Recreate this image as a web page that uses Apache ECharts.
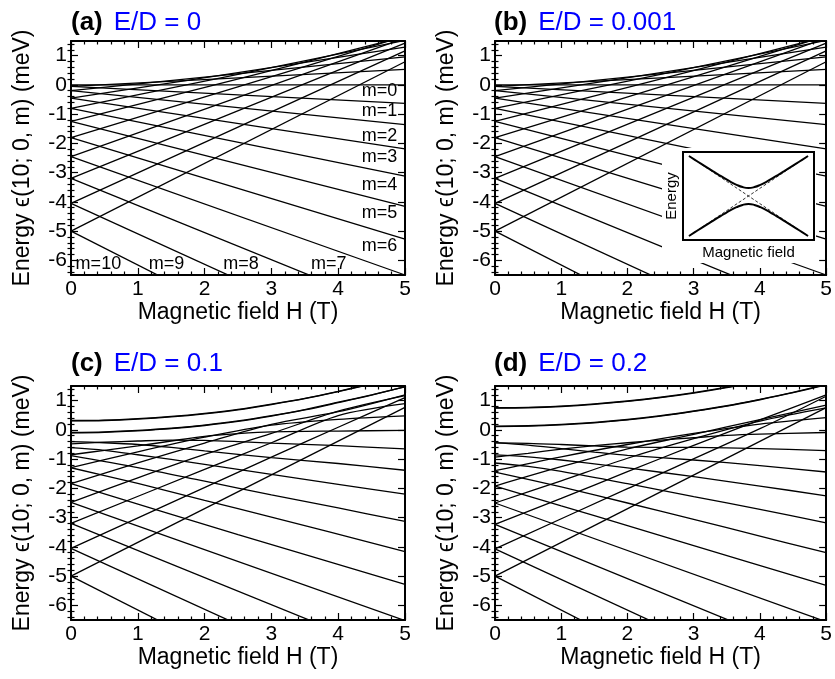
<!DOCTYPE html>
<html><head><meta charset="utf-8">
<script src="https://cdn.jsdelivr.net/npm/echarts@6/dist/echarts.min.js"></script>
<style>html,body{margin:0;padding:0;background:#fff}#c{width:835px;height:679px}</style>
</head><body><div id="c"></div>
<script>
// ---------------- data ----------------
const PANEL_TAGS = ['(a)', '(b)', '(c)', '(d)'];
const PANEL_RATIOS = ['E/D = 0', 'E/D = 0.001', 'E/D = 0.1', 'E/D = 0.2'];
const X_TITLE = 'Magnetic field H (T)';
const Y_TITLE = 'Energy \u03f5(10; 0, m) (meV)';
const Y_MAJOR = [-6, -5, -4, -3, -2, -1, 0, 1];
const Y_MINOR = [-6.4,-6.2,-5.8,-5.6,-5.4,-5.2,-4.8,-4.6,-4.4,-4.2,-3.8,-3.6,-3.4,-3.2,-2.8,-2.6,-2.4,-2.2,-1.8,-1.6,-1.4,-1.2,-0.8,-0.6,-0.4,-0.2,0.2,0.4,0.6,0.8,1.2,1.4];

// panel (a): straight levels, m = -10 ... 10, energies at H = 0 T and H = 5 T
const M_VALUES = [-10,-9,-8,-7,-6,-5,-4,-3,-2,-1,0,1,2,3,4,5,6,7,8,9,10];
const A_E_AT_0T = [-5.00,-4.05,-3.20,-2.45,-1.80,-1.25,-0.80,-0.45,-0.20,-0.05,0.00,-0.05,-0.20,-0.45,-0.80,-1.25,-1.80,-2.45,-3.20,-4.05,-5.00];
const A_E_AT_5T = [0.79,1.16,1.43,1.60,1.67,1.65,1.52,1.29,0.96,0.53,0.00,-0.63,-1.36,-2.19,-3.12,-4.15,-5.27,-6.50,-7.83,-9.26,-10.79];
// panel (b): E/D = 0.001 (indistinguishable from (a) at this scale)
const B_E_AT_0T = [-5.00,-4.05,-3.20,-2.45,-1.80,-1.25,-0.80,-0.45,-0.20,-0.05,0.00,-0.05,-0.20,-0.45,-0.80,-1.25,-1.80,-2.45,-3.20,-4.05,-5.00];
const B_E_AT_5T = [0.79,1.16,1.43,1.60,1.67,1.65,1.52,1.29,0.96,0.53,0.00,-0.63,-1.36,-2.19,-3.12,-4.15,-5.27,-6.50,-7.83,-9.26,-10.79];

// panel (c): levels as [H, E] points
const C_CURVES = [
  [[0,-5.00],[5,-10.79]],
  [[0,-4.05],[5,-9.26]],
  [[0,-3.20],[5,-7.83]],
  [[0,-2.48],[5,-6.52]],
  [[0,-1.84],[2.5,-3.58],[5,-5.28]],
  [[0,-1.295],[1,-1.83],[2,-2.41],[3,-2.98],[5,-4.16]],
  [[0,-0.88],[1,-1.29],[2,-1.755],[3,-2.22],[4,-2.67],[5,-3.13]],
  [[0,-0.61],[0.5,-0.70],[1,-0.85],[1.5,-1.01],[2,-1.18],[3,-1.52],[4,-1.86],[5,-2.20]],
  [[0,-0.40],[0.5,-0.44],[1,-0.50],[1.5,-0.60],[2,-0.72],[3,-0.95],[4,-1.15],[5,-1.38]],
  [[0,-0.48],[0.5,-0.42],[1,-0.38],[1.5,-0.35],[2,-0.36],[2.5,-0.40],[3,-0.45],[4,-0.54],[5,-0.65]],
  [[0,-0.85],[0.5,-0.70],[1,-0.55],[1.5,-0.38],[2,-0.22],[2.5,-0.13],[3,-0.07],[4,-0.04],[5,-0.02]],
  [[0,-1.29],[1,-0.75],[2,-0.25],[3,0.16],[4,0.36],[5,0.48]],
  [[0,-1.84],[1,-1.13],[2,-0.45],[3,0.19],[4,0.62],[5,1.20]],
  [[0,-2.48],[1,-1.64],[2,-0.84],[3,-0.12],[4,0.64],[5,1.17]],
  [[0,-3.20],[2,-1.35],[3,-0.44],[4,0.49],[5,0.90]],
  [[0,-4.05],[3,-0.93],[4,0.09],[5,1.10]],
  [[0,-5.00],[5,0.77]],
  [[0,0.32],[0.5,0.335],[1,0.385],[1.5,0.46],[2,0.565],[2.5,0.70],[3,0.88],[3.5,1.08],[4,1.32],[4.5,1.58]],
  [[0,0.305],[0.5,0.32],[1,0.37],[1.5,0.445],[2,0.55],[2.5,0.685],[3,0.865],[3.5,1.065],[4,1.305],[4.5,1.565]],
  [[0,-0.105],[0.5,-0.085],[1,-0.035],[1.5,0.04],[2,0.15],[2.5,0.29],[3,0.47],[3.5,0.68],[4,0.93],[4.5,1.19],[5,1.48]],
  [[0,-0.09],[0.5,-0.07],[1,-0.02],[1.5,0.055],[2,0.165],[2.5,0.305],[3,0.485],[3.5,0.695],[4,0.945],[4.5,1.20],[5,1.47]]
];
// panel (d): levels as [H, E] points
const D_CURVES = [
  [[0,-5.00],[5,-10.80]],
  [[0,-4.07],[5,-9.30]],
  [[0,-3.23],[5,-7.87]],
  [[0,-2.50],[5,-6.56]],
  [[0,-1.92],[1,-2.60],[2,-3.27],[3,-3.96],[5,-5.32]],
  [[0,-1.446],[1,-1.95],[2,-2.50],[3,-3.06],[4,-3.63],[5,-4.20]],
  [[0,-1.133],[0.5,-1.25],[1,-1.42],[2,-1.84],[3,-2.28],[4,-2.72],[5,-3.18]],
  [[0,-0.853],[0.5,-0.92],[1,-1.03],[1.5,-1.16],[2,-1.30],[3,-1.60],[4,-1.92],[5,-2.255]],
  [[0,-0.437],[0.5,-0.52],[1,-0.64],[1.5,-0.76],[2,-0.87],[3,-1.03],[4,-1.22],[5,-1.44]],
  [[0,-0.446],[0.5,-0.46],[1,-0.50],[1.5,-0.55],[2,-0.59],[3,-0.60],[4,-0.64],[5,-0.71]],
  [[0,-0.931],[0.5,-0.80],[1,-0.66],[1.5,-0.54],[2,-0.44],[2.5,-0.35],[3,-0.27],[3.5,-0.19],[4,-0.145],[5,-0.09]],
  [[0,-1.397],[1,-0.92],[2,-0.50],[3,-0.12],[4,0.20],[5,0.42]],
  [[0,-1.92],[1,-1.26],[2,-0.65],[3,-0.15],[4,0.35],[5,0.85]],
  [[0,-2.50],[1,-1.74],[2,-0.97],[3,-0.30],[4,0.30],[5,0.75]],
  [[0,-3.23],[1,-2.34],[2,-1.43],[3,-0.53],[4,0.34],[5,1.20]],
  [[0,-4.07],[2,-2.01],[4,0.04],[5,1.15]],
  [[0,-5.00],[5,0.76]],
  [[0,0.757],[0.5,0.771],[1,0.814],[1.5,0.886],[2,0.987],[2.5,1.116],[3,1.274],[3.5,1.46],[4,1.68]],
  [[0,0.742],[0.5,0.756],[1,0.799],[1.5,0.871],[2,0.972],[2.5,1.101],[3,1.259],[3.5,1.445],[4,1.665]],
  [[0,0.112],[0.5,0.126],[1,0.17],[1.5,0.24],[2,0.34],[2.5,0.47],[3,0.63],[3.5,0.81],[4,1.03],[4.5,1.27],[5,1.54]],
  [[0,0.127],[0.5,0.141],[1,0.185],[1.5,0.255],[2,0.355],[2.5,0.485],[3,0.645],[3.5,0.825],[4,1.045],[4.5,1.285],[5,1.555]]
];

// level labels in panel (a): text, H, E
const A_LABELS_RIGHT = [['m=0',4.885,-0.21],['m=1',4.885,-0.90],['m=2',4.885,-1.76],['m=3',4.885,-2.45],['m=4',4.885,-3.41],['m=5',4.885,-4.38],['m=6',4.885,-5.52]];
const A_LABELS_BOTTOM = [['m=10',0.41,-6.14],['m=9',1.43,-6.14],['m=8',2.545,-6.14],['m=7',3.86,-6.14]];

// inset (schematic avoided crossing)
const INSET_X = [-1,-0.9,-0.8,-0.6,-0.5,-0.4,-0.3,-0.2,-0.1,0,0.1,0.2,0.3,0.4,0.5,0.6,0.8,0.9,1];
const INSET_UPPER = [1,0.904,0.809,0.621,0.529,0.44,0.356,0.28,0.223,0.2,0.223,0.28,0.356,0.44,0.529,0.621,0.809,0.904,1];
const INSET_LOWER = [-1,-0.904,-0.809,-0.621,-0.529,-0.44,-0.356,-0.28,-0.223,-0.2,-0.223,-0.28,-0.356,-0.44,-0.529,-0.621,-0.809,-0.904,-1];
const INSET_DIAG = [[-1,-1],[1,1]];
const INSET_ANTI = [[-1,1],[1,-1]];

// ---------------- layout ----------------
const FONT = '"Liberation Sans", Arial, Helvetica, sans-serif';
const GRID_POS = [[71,41],[495,41],[71,386],[495,386]];
const GRID_W = 334, GRID_H = 234;
const TITLE_POS = [[66,5],[489,5],[66,346],[489,346]];

const chart = echarts.init(document.getElementById('c'), null, {renderer:'canvas', width:835, height:679});

const grids = [], xAxes = [], yAxes = [], series = [], titles = [];
const black = '#000';
for (let p = 0; p < 4; p++) {
  grids.push({left: GRID_POS[p][0], top: GRID_POS[p][1], width: GRID_W, height: GRID_H, containLabel:false});
  const tickStyle = {color: black, width: 1.2};
  const xBase = {
    type:'value', gridIndex:p, min:0, max:5, interval:1,
    axisLine:{show:true, onZero:false, lineStyle:{color:black, width:2}},
    axisTick:{show:true, inside:true, length:7, lineStyle:tickStyle},
    minorTick:{show:true, splitNumber:5, length:3.5, lineStyle:tickStyle},
    splitLine:{show:false}, minorSplitLine:{show:false}
  };
  xAxes.push(Object.assign({}, xBase, {
    position:'bottom',
    axisLabel:{show:true, margin:4, fontSize:21, color:black, fontFamily:FONT},
    name: X_TITLE, nameLocation:'middle', nameGap:24,
    nameTextStyle:{fontSize:23, color:black, fontFamily:FONT}
  }));
  xAxes.push(Object.assign({}, xBase, {position:'top', axisLabel:{show:false}}));
  const yBase = {
    type:'value', gridIndex:p, min:-6.5, max:1.5,
    splitLine:{show:false}, axisLabel:{show:false}
  };
  yAxes.push(Object.assign({}, yBase, {
    position:'left',
    axisLine:{show:true, onZero:false, lineStyle:{color:black, width:2}},
    axisTick:{show:true, inside:true, length:7, lineStyle:tickStyle, customValues:Y_MAJOR},
    axisLabel:{show:true, margin:4, fontSize:21, color:black, fontFamily:FONT, customValues:Y_MAJOR},
    name: Y_TITLE, nameLocation:'middle', nameRotate:90, nameGap:37,
    nameTextStyle:{fontSize:23, color:black, fontFamily:FONT}
  }));
  yAxes.push(Object.assign({}, yBase, {
    position:'left', axisLine:{show:false},
    axisTick:{show:true, inside:true, length:3.5, lineStyle:tickStyle, customValues:Y_MINOR}
  }));
  yAxes.push(Object.assign({}, yBase, {
    position:'right',
    axisLine:{show:true, onZero:false, lineStyle:{color:black, width:2}},
    axisTick:{show:true, inside:true, length:7, lineStyle:tickStyle, customValues:Y_MAJOR}
  }));
  yAxes.push(Object.assign({}, yBase, {
    position:'right', axisLine:{show:false},
    axisTick:{show:true, inside:true, length:3.5, lineStyle:tickStyle, customValues:Y_MINOR}
  }));
  titles.push({
    left: TITLE_POS[p][0], top: TITLE_POS[p][1],
    text: '{b|' + PANEL_TAGS[p] + '}{e|' + PANEL_RATIOS[p] + '}',
    textStyle:{rich:{
      b:{fontSize:26, fontWeight:'bold', color:black, fontFamily:FONT},
      e:{fontSize:26, fontWeight:'normal', color:'#0000ff', fontFamily:FONT, padding:[0,0,0,11]}
    }}
  });
}

function addLine(points, p) {
  series.push({
    type:'line', xAxisIndex:2*p, yAxisIndex:4*p, data:points,
    showSymbol:false, symbol:'none', smooth: points.length > 2 ? 0.3 : false,
    lineStyle:{color:black, width:1.3}, silent:true, animation:false, clip:true, z:2
  });
}
M_VALUES.forEach((m, i) => addLine([[0, A_E_AT_0T[i]], [5, A_E_AT_5T[i]]], 0));
M_VALUES.forEach((m, i) => addLine([[0, B_E_AT_0T[i]], [5, B_E_AT_5T[i]]], 1));
C_CURVES.forEach(c => addLine(c, 2));
D_CURVES.forEach(c => addLine(c, 3));

// level labels in (a)
const labelStyle = {show:true, fontSize:18, color:black, fontFamily:FONT, opacity:1};
series.push({
  type:'scatter', xAxisIndex:0, yAxisIndex:0, symbolSize:0, silent:true, animation:false, z:5,
  itemStyle:{opacity:1},
  data: A_LABELS_RIGHT.map(l => ({name:l[0], value:[l[1], l[2]]})),
  label:Object.assign({position:'left', distance:0, formatter:'{b}'}, labelStyle)
});
series.push({
  type:'scatter', xAxisIndex:0, yAxisIndex:0, symbolSize:0, silent:true, animation:false, z:5,
  itemStyle:{opacity:1},
  data: A_LABELS_BOTTOM.map(l => ({name:l[0], value:[l[1], l[2]]})),
  label:Object.assign({position:'inside', formatter:'{b}'}, labelStyle)
});

// inset in (b)
grids.push({left:683, top:152, width:131, height:88, show:true, backgroundColor:'#fff', borderColor:black, borderWidth:2, z:60});
xAxes.push({type:'value', gridIndex:4, min:-1.1, max:1.1, z:62,
  axisLine:{show:false}, axisTick:{show:false}, axisLabel:{show:false}, splitLine:{show:false},
  name:'Magnetic field', nameLocation:'middle', nameGap:5, nameTextStyle:{fontSize:15, color:black, fontFamily:FONT}});
yAxes.push({type:'value', gridIndex:4, min:-1.1, max:1.1, z:62,
  axisLine:{show:false}, axisTick:{show:false}, axisLabel:{show:false}, splitLine:{show:false},
  name:'Energy', nameLocation:'middle', nameRotate:90, nameGap:4, nameTextStyle:{fontSize:15, color:black, fontFamily:FONT}});
const insetLine = (data, dashed, w) => series.push({
  type:'line', xAxisIndex:8, yAxisIndex:16, data, showSymbol:false, symbol:'none', smooth:!dashed,
  lineStyle:{color:black, width:w, type: dashed ? [3,2] : 'solid'}, silent:true, animation:false, z:63
});
insetLine(INSET_DIAG, true, 0.8);
insetLine(INSET_ANTI, true, 0.8);
insetLine(INSET_X.map((x, i) => [x, INSET_UPPER[i]]), false, 2);
insetLine(INSET_X.map((x, i) => [x, INSET_LOWER[i]]), false, 2);

chart.setOption({
  animation:false,
  backgroundColor:'#fff',
  title: titles,
  grid: grids,
  xAxis: xAxes,
  yAxis: yAxes,
  graphic:[{type:'rect', shape:{x:662, y:148, width:154, height:115}, style:{fill:'#fff'}, z:50, silent:true}],
  series
});
</script></body></html>
